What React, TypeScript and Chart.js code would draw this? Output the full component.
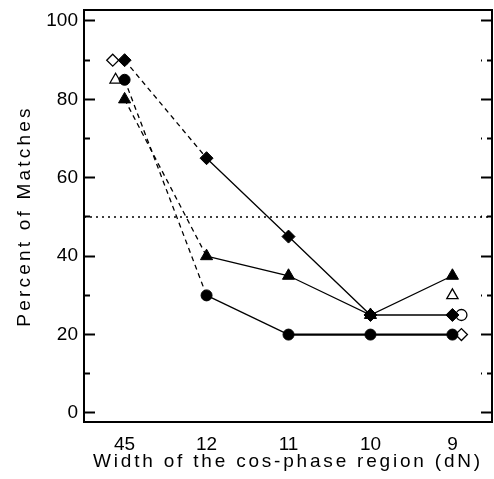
import React, { useEffect, useRef } from 'react';
import { Chart, registerables, LinearScale } from 'chart.js';

Chart.register(...registerables);

// ---- data ----
const categories = ['45', '12', '11', '10', '9'];
const categoryIndex = [0, 1, 2, 3, 4];
const diamondPct = [90, 65, 45, 25, 25];
const trianglePct = [80, 40, 35, 25, 35];
const circlePct = [85, 30, 20, 20, 20];

// open (unfilled) markers: category index, small horizontal jitter, value
const openDiamondCat = [0, 4];
const openDiamondJitter = [-0.145, 0.11];
const openDiamondPct = [90, 20];
const openTriangleCat = [0, 4];
const openTriangleJitter = [-0.11, 0];
const openTrianglePct = [85, 30];
const openCircleCat = [4];
const openCircleJitter = [0.11];
const openCirclePct = [25];

const chanceLevel = 50;
const yTicks = [0, 10, 20, 30, 40, 50, 60, 70, 80, 90, 100];

const X_MIN = -0.4955;
const X_MAX = 4.483;
const Y_MIN = -2.3;
const Y_MAX = 102.8;

const FONT = 'Liberation Sans, Arial, sans-serif';

class SpacedTitleScale extends LinearScale {
  static id = 'spacedTitle';
  static defaults = LinearScale.defaults;
  drawTitle() {
    const self: any = this;
    const ctx: any = self.ctx;
    ctx.save();
    ctx.letterSpacing = self.axis === 'y' ? '3.2px' : '2.8px';
    // @ts-ignore
    super.drawTitle();
    ctx.restore();
  }
}
Chart.register(SpacedTitleScale as any);

const pts = (xs: number[], ys: number[], jit?: number[]) =>
  xs.map((x, i) => ({ x: x + (jit ? jit[i] : 0), y: ys[i] }));

const isMinor = (c: any) => c.tick && c.tick.value % 20 !== 0;

const noPad = (s: any) => {
  s.paddingTop = 0;
  s.paddingBottom = 0;
  s.paddingLeft = 0;
  s.paddingRight = 0;
};

export default function App() {
  const ref = useRef<HTMLCanvasElement>(null);
  useEffect(() => {
    const dash01 = (c: any) => (c.p0DataIndex === 0 ? [5, 4] : undefined);
    const chart = new Chart(ref.current!, {
      type: 'scatter',
      data: {
        datasets: [
          {
            label: 'diamond',
            data: pts(categoryIndex, diamondPct),
            showLine: true,
            borderColor: '#000',
            backgroundColor: '#000',
            borderWidth: 1.3,
            pointStyle: 'rectRot',
            pointRadius: 6.5,
            pointBorderWidth: 1,
            segment: { borderDash: dash01 },
            order: 0,
          },
          {
            label: 'triangle',
            data: pts(categoryIndex, trianglePct),
            showLine: true,
            borderColor: '#000',
            backgroundColor: '#000',
            borderWidth: 1.3,
            pointStyle: 'triangle',
            pointRadius: 7,
            pointBorderWidth: 1,
            segment: { borderDash: dash01 },
            order: 0,
          },
          {
            label: 'circle',
            data: pts(categoryIndex, circlePct),
            showLine: true,
            borderColor: '#000',
            backgroundColor: '#000',
            borderWidth: 1.3,
            pointStyle: 'circle',
            pointRadius: 5.5,
            pointBorderWidth: 1,
            segment: {
              borderDash: dash01,
              borderWidth: (c: any) => (c.p0DataIndex >= 2 ? 2.2 : undefined),
            } as any,
            order: 0,
          },
          {
            label: 'open diamond',
            data: pts(openDiamondCat, openDiamondPct, openDiamondJitter),
            showLine: false,
            borderColor: '#000',
            backgroundColor: '#fff',
            pointStyle: 'rectRot',
            pointRadius: 6,
            pointBorderWidth: 1.3,
            order: 1,
          },
          {
            label: 'open triangle',
            data: pts(openTriangleCat, openTrianglePct, openTriangleJitter),
            showLine: false,
            borderColor: '#000',
            backgroundColor: '#fff',
            pointStyle: 'triangle',
            pointRadius: 6.5,
            pointBorderWidth: 1.3,
            order: 1,
          },
          {
            label: 'open circle',
            data: pts(openCircleCat, openCirclePct, openCircleJitter),
            showLine: false,
            borderColor: '#000',
            backgroundColor: '#fff',
            pointStyle: 'circle',
            pointRadius: 5.5,
            pointBorderWidth: 1.3,
            order: 1,
          },
          {
            label: 'chance',
            data: [
              { x: X_MIN, y: chanceLevel },
              { x: X_MAX, y: chanceLevel },
            ],
            showLine: true,
            borderColor: '#000',
            borderWidth: 1.5,
            borderDash: [2, 4],
            pointRadius: 0,
            order: 2,
          },
        ],
      },
      options: {
        animation: false,
        responsive: false,
        devicePixelRatio: 1,
        events: [],
        layout: { padding: 0 },
        plugins: { legend: { display: false }, tooltip: { enabled: false } },
        scales: {
          x: {
            type: 'spacedTitle' as any,
            axis: 'x',
            position: 'bottom',
            min: X_MIN,
            max: X_MAX,
            afterBuildTicks: (s: any) => {
              s.ticks = categoryIndex.map((v) => ({ value: v }));
            },
            ticks: {
              callback: (v: any) => categories[Math.round(Number(v))] ?? '',
              font: { family: FONT, size: 19 },
              color: '#000',
              padding: 3,
              maxRotation: 0,
              autoSkip: false,
            },
            grid: { display: false },
            border: { display: true, color: '#000', width: 2 },
            title: {
              display: true,
              text: 'Width of the cos-phase region (dN)',
              font: { family: FONT, size: 19 },
              color: '#000',
              padding: { top: 0, bottom: 6 },
            },
            afterFit: (s: any) => {
              s.height = 57;
              noPad(s);
            },
          } as any,
          xTop: {
            type: 'linear',
            axis: 'x',
            position: 'top',
            min: X_MIN,
            max: X_MAX,
            ticks: { display: false },
            grid: { display: false },
            border: { display: true, color: '#000', width: 2 },
            afterFit: (s: any) => {
              s.height = 10;
              noPad(s);
            },
          } as any,
          y: {
            type: 'spacedTitle' as any,
            axis: 'y',
            position: 'left',
            min: Y_MIN,
            max: Y_MAX,
            afterBuildTicks: (s: any) => {
              s.ticks = yTicks.map((v) => ({ value: v }));
            },
            ticks: {
              callback: (v: any) => (Number(v) % 20 === 0 ? String(v) : ''),
              font: { family: FONT, size: 19 },
              color: '#000',
              padding: 17,
            },
            grid: {
              drawOnChartArea: false,
              drawTicks: true,
              tickLength: -11,
              tickWidth: 2,
              tickColor: '#000',
              tickBorderDash: (c: any) => (isMinor(c) ? [6, 5] : []),
              tickBorderDashOffset: (c: any) => (isMinor(c) ? 6 : 0),
            },
            border: { display: true, color: '#000', width: 2 },
            title: {
              display: true,
              text: 'Percent of Matches',
              font: { family: FONT, size: 19 },
              color: '#000',
              padding: { top: 13, bottom: 0 },
            },
            afterFit: (s: any) => {
              s.width = 84;
              noPad(s);
            },
          } as any,
          yRight: {
            type: 'linear',
            axis: 'y',
            position: 'right',
            min: Y_MIN,
            max: Y_MAX,
            afterBuildTicks: (s: any) => {
              s.ticks = yTicks.map((v) => ({ value: v }));
            },
            ticks: { display: false },
            grid: {
              drawOnChartArea: false,
              drawTicks: true,
              tickLength: -11,
              tickWidth: 2,
              tickColor: '#000',
              tickBorderDash: (c: any) => (isMinor(c) ? [6, 5] : []),
              tickBorderDashOffset: 0,
            },
            border: { display: true, color: '#000', width: 2 },
            afterFit: (s: any) => {
              s.width = 4;
              noPad(s);
            },
          } as any,
        },
      },
    });
    return () => chart.destroy();
  }, []);

  return (
    <div
      style={{
        position: 'absolute',
        left: 0,
        top: 0,
        width: 494,
        height: 479,
        overflow: 'hidden',
        background: '#fff',
      }}
    >
      <canvas ref={ref} width={500} height={479} style={{ display: 'block', width: 500, height: 479 }} />
    </div>
  );
}
